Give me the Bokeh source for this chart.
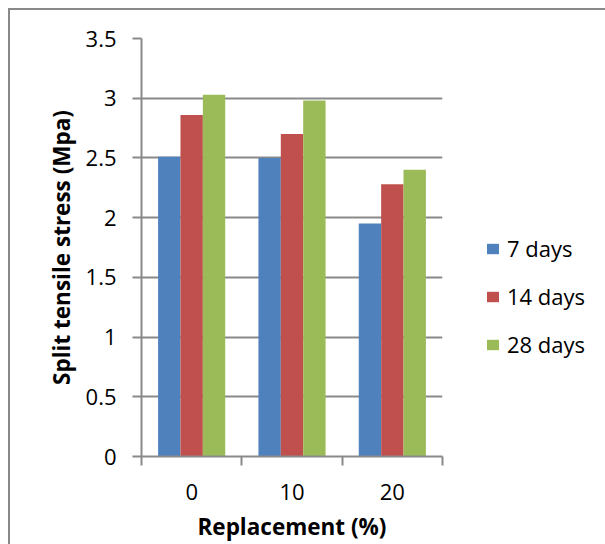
from bokeh.plotting import figure
from bokeh.models import (Range1d, FixedTicker, Legend, LegendItem, ColumnDataSource)
from bokeh.embed import file_html
from bokeh.resources import INLINE

categories = ["0", "10", "20"]
series_names = ["7 days", "14 days", "28 days"]
days7 = [2.51, 2.50, 1.95]
days14 = [2.86, 2.70, 2.28]
days28 = [3.03, 2.98, 2.40]
colors = ["#4F81BD", "#C0504D", "#9BBB59"]
y_ticks = [0, 0.5, 1, 1.5, 2, 2.5, 3, 3.5]
y_tick_labels = ["0", "0.5", "1", "1.5", "2", "2.5", "3", "3.5"]

FONT = "Open Sans"
GRAY = "#898989"

n = len(categories)
p = figure(frame_width=301, frame_height=418, output_backend="svg", toolbar_location=None,
           x_range=Range1d(-0.5, n - 0.5), y_range=Range1d(0, 3.5),
           min_border_left=131, min_border_right=160, min_border_top=28, min_border_bottom=86)
p.styles = {"border-top": "2px solid #898989", "border-left": "2px solid #898989",
            "margin-top": "8px", "margin-left": "8px"}
p.outline_line_color = None
p.background_fill_color = "white"
p.border_fill_color = "white"

idx = [float(i) for i in range(n)]
bw = 0.223
offsets = [-bw, 0.0, bw]
renderers = []
for vals, off, col in zip([days7, days14, days28], offsets, colors):
    src = ColumnDataSource(dict(x=[i + off for i in idx], top=vals))
    r = p.vbar(x="x", top="top", width=bw, source=src, fill_color=col, line_color=None)
    renderers.append(r)

# y axis
p.yaxis.ticker = FixedTicker(ticks=y_ticks)
p.yaxis.major_label_overrides = {t: l for t, l in zip(y_ticks, y_tick_labels)}
p.yaxis.minor_tick_line_color = None
p.yaxis.major_tick_in = 0
p.yaxis.major_tick_out = 9
p.yaxis.major_tick_line_color = GRAY
p.yaxis.major_tick_line_width = 2
p.yaxis.axis_line_color = GRAY
p.yaxis.axis_line_width = 2
p.yaxis.major_label_text_font = FONT
p.yaxis.major_label_text_font_size = "22px"
p.yaxis.major_label_text_color = "black"
p.yaxis.major_label_standoff = 16
p.yaxis.axis_label = "Split tensile stress (Mpa)"
p.yaxis.axis_label_text_font = FONT
p.yaxis.axis_label_text_font_style = "bold"
p.yaxis.axis_label_text_font_size = "22.5px"
p.yaxis.axis_label_text_color = "black"
p.yaxis.axis_label_standoff = 6

# x axis
p.xaxis.ticker = FixedTicker(ticks=idx, minor_ticks=[i - 0.5 for i in range(n + 1)])
p.xaxis.major_label_overrides = {i: c for i, c in zip(range(n), categories)}
p.xaxis.major_tick_line_color = None
p.xaxis.minor_tick_in = 0
p.xaxis.minor_tick_out = 9
p.xaxis.minor_tick_line_color = GRAY
p.xaxis.minor_tick_line_width = 2
p.xaxis.axis_line_color = GRAY
p.xaxis.axis_line_width = 2
p.xaxis.major_label_text_font = FONT
p.xaxis.major_label_text_font_size = "22px"
p.xaxis.major_label_text_color = "black"
p.xaxis.major_label_standoff = 18
p.xaxis.axis_label = "Replacement (%)"
p.xaxis.axis_label_text_font = FONT
p.xaxis.axis_label_text_font_style = "bold"
p.xaxis.axis_label_text_font_size = "22.5px"
p.xaxis.axis_label_text_color = "black"
p.xaxis.axis_label_standoff = 8

p.xgrid.grid_line_color = None
p.ygrid.ticker = FixedTicker(ticks=y_ticks)
p.ygrid.grid_line_color = GRAY
p.ygrid.grid_line_width = 2

legend = Legend(items=[LegendItem(label=s, renderers=[r]) for s, r in zip(series_names, renderers)],
                location=(43, 97), orientation="vertical")
legend.border_line_color = None
legend.background_fill_alpha = 0
legend.padding = 0
legend.margin = 0
legend.glyph_width = 15
legend.glyph_height = 13
legend.label_height = 30
legend.spacing = 18
legend.label_standoff = 7
legend.label_text_font = FONT
legend.label_text_font_size = "22px"
legend.label_text_color = "black"
p.add_layout(legend, "right")

open("out.html", "w").write(file_html(p, INLINE))
